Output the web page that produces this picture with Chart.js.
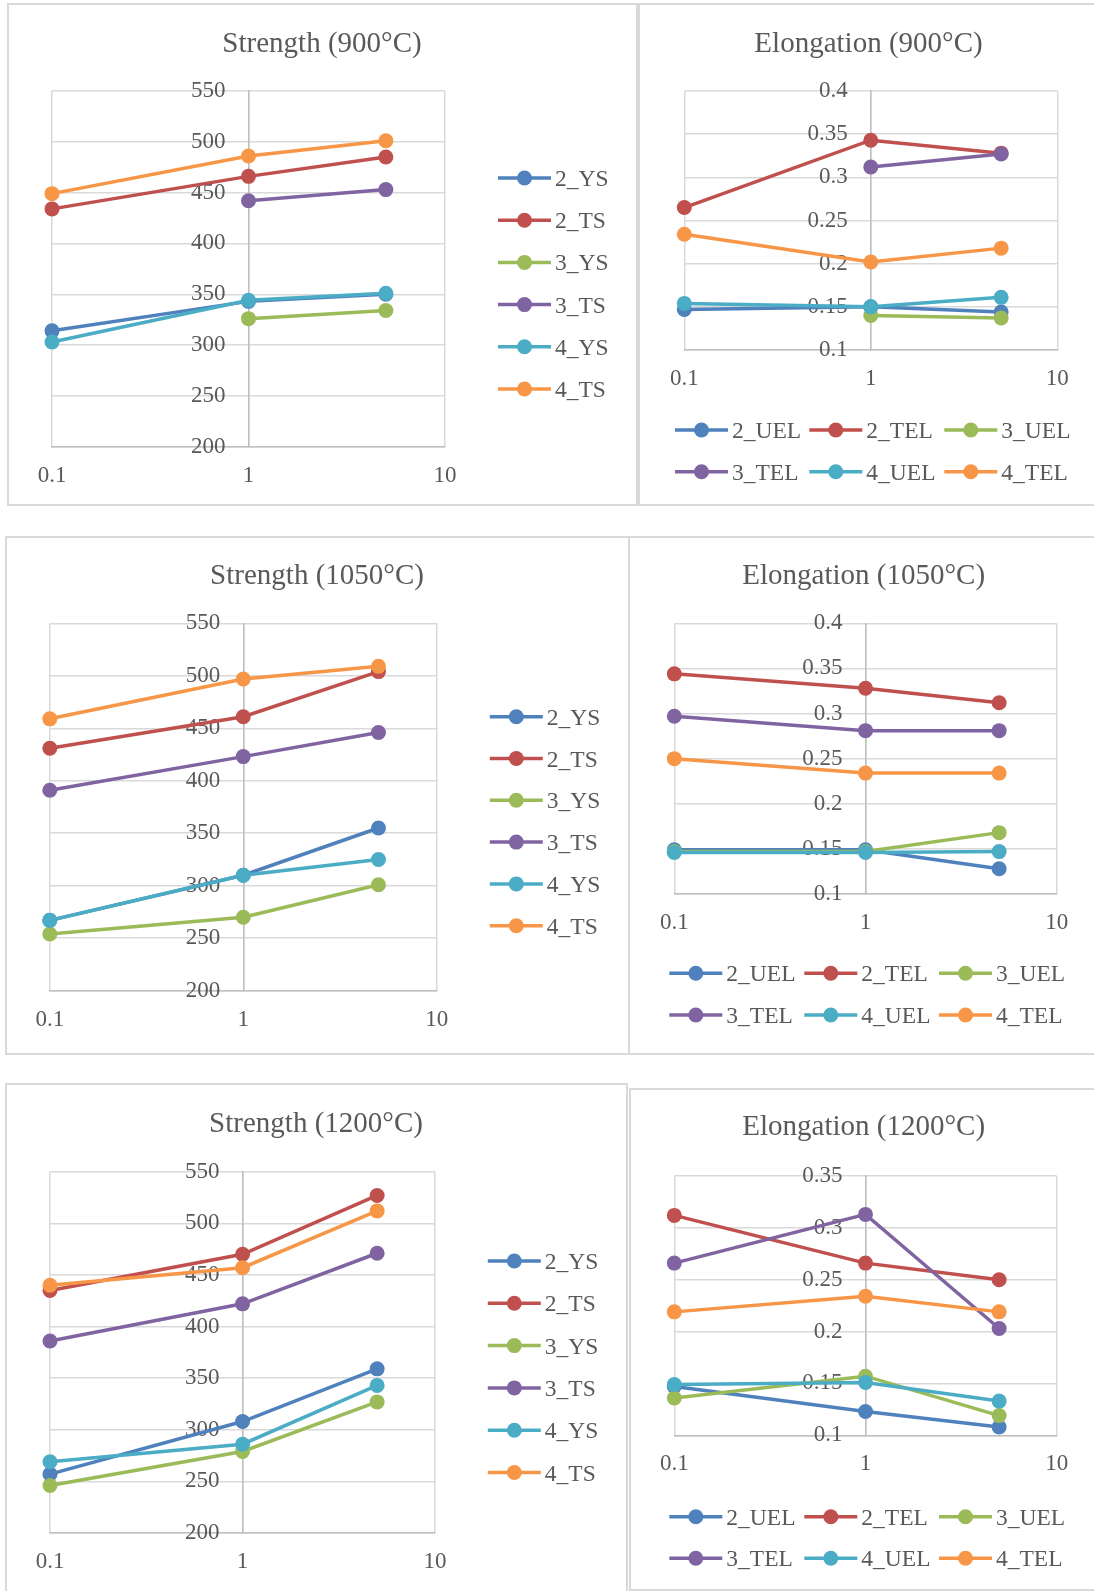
<!DOCTYPE html>
<html>
<head>
<meta charset="utf-8">
<title>Strength and elongation</title>
<script src="https://cdn.jsdelivr.net/npm/chart.js@4.4.1/dist/chart.umd.min.js"></script>
<style>
  html, body { margin: 0; padding: 0; background: #fff; overflow: hidden; }
  body { width: 1094px; height: 1591px; position: relative; }
  .frame { position: absolute; border: 2px solid #d9d9d9; box-sizing: border-box; }
  canvas { position: absolute; }
</style>
</head>
<body>
<div class="frame" style="left:7px;top:3px;width:631px;height:503px"></div>
<div class="frame" style="left:638px;top:3px;width:470px;height:503px"></div>
<div class="frame" style="left:5px;top:536px;width:625px;height:519px"></div>
<div class="frame" style="left:628px;top:536px;width:470px;height:519px"></div>
<div class="frame" style="left:5px;top:1083px;width:623px;height:520px"></div>
<div class="frame" style="left:629px;top:1088px;width:470px;height:503px"></div>

<canvas id="c1"></canvas>
<canvas id="c2"></canvas>
<canvas id="c3"></canvas>
<canvas id="c4"></canvas>
<canvas id="c5"></canvas>
<canvas id="c6"></canvas>

<script>
// strain rate (x) and axis ticks
const xValues = [0.1, 1, 5];
const xTickValues = [0.1, 1, 10];
const strengthTicks = [200, 250, 300, 350, 400, 450, 500, 550];
const elongTicks = [0.1, 0.15, 0.2, 0.25, 0.3, 0.35, 0.4];
const elongTicks1200 = [0.1, 0.15, 0.2, 0.25, 0.3, 0.35];

const strengthNames = ['2_YS', '2_TS', '3_YS', '3_TS', '4_YS', '4_TS'];
const elongNames = ['2_UEL', '2_TEL', '3_UEL', '3_TEL', '4_UEL', '4_TEL'];
const seriesColors = ['#4f81bd', '#c0504d', '#9bbb59', '#8064a2', '#4bacc6', '#f79646'];

// values at 0.1, 1, 5 (rows follow the series names)
const strength900 = [
  [314, 343, 350],
  [434, 466, 485],
  [null, 326, 334],
  [null, 442, 453],
  [303, 344, 351],
  [449, 486, 501]
];
const elong900 = [
  [0.147, 0.150, 0.144],
  [0.265, 0.343, 0.328],
  [null, 0.140, 0.137],
  [null, 0.312, 0.327],
  [0.154, 0.150, 0.161],
  [0.234, 0.202, 0.218]
];
const strength1050 = [
  [267, 310, 355],
  [431, 461, 504],
  [254, 270, 301],
  [391, 423, 446],
  [267, 310, 325],
  [459, 497, 509]
];
const elong1050 = [
  [0.149, 0.149, 0.128],
  [0.344, 0.328, 0.312],
  [0.147, 0.147, 0.168],
  [0.297, 0.281, 0.281],
  [0.146, 0.146, 0.147],
  [0.250, 0.234, 0.234]
];
const strength1200 = [
  [257, 308, 359],
  [435, 470, 527],
  [246, 279, 327],
  [386, 422, 471],
  [269, 286, 343],
  [440, 457, 512]
];
const elong1200 = [
  [0.147, 0.123, 0.108],
  [0.312, 0.266, 0.250],
  [0.136, 0.157, 0.119],
  [0.266, 0.313, 0.203],
  [0.149, 0.151, 0.133],
  [0.219, 0.234, 0.219]
];

const fontFamily = '"Liberation Serif", "Times New Roman", serif';
const textColor = '#595959';
const gridColor = '#d9d9d9';
const axisColor = '#bfbfbf';
const tickSize = 23;
const legendSize = 23.5;
const titleSize = 29;
const lineW = 3.5;
const dotR = 7.5;

// page layout: box = canvas rect, plot = chart area (page px)
const panels = [
  { id: 'c1', title: 'Strength (900°C)', names: strengthNames, data: strength900, yTicks: strengthTicks,
    box: [7, 3, 631, 503], plot: [52, 91, 445, 446.7], titleAt: [322, 52],
    legend: { right: true, x: 498, y: 178, step: 42.2 } },
  { id: 'c2', title: 'Elongation (900°C)', names: elongNames, data: elong900, yTicks: elongTicks,
    box: [638, 3, 456, 503], plot: [684.3, 91, 1057.3, 350], titleAt: [868.5, 52],
    legend: { cols: [675, 809.3, 944.3], rows: [430, 471.7] } },
  { id: 'c3', title: 'Strength (1050°C)', names: strengthNames, data: strength1050, yTicks: strengthTicks,
    box: [5, 536, 625, 519], plot: [49.8, 623.3, 436.7, 990.7], titleAt: [317, 584.3],
    legend: { right: true, x: 489.8, y: 716.7, step: 41.8 } },
  { id: 'c4', title: 'Elongation (1050°C)', names: elongNames, data: elong1050, yTicks: elongTicks,
    box: [628, 536, 466, 519], plot: [674.3, 623.3, 1056.7, 894], titleAt: [863.7, 584.3],
    legend: { cols: [669.3, 804.3, 939], rows: [973.3, 1015] } },
  { id: 'c5', title: 'Strength (1200°C)', names: strengthNames, data: strength1200, yTicks: strengthTicks,
    box: [5, 1083, 623, 508], plot: [50, 1171.7, 435.1, 1533], titleAt: [316, 1132.3],
    legend: { right: true, x: 487.8, y: 1261, step: 42.3 } },
  { id: 'c6', title: 'Elongation (1200°C)', names: elongNames, data: elong1200, yTicks: elongTicks1200,
    box: [629, 1088, 465, 503], plot: [674.3, 1176, 1056.7, 1435.3], titleAt: [863.7, 1135],
    legend: { cols: [669.3, 804.3, 939], rows: [1516.7, 1558.3] } }
];

// title + legend drawn in page coordinates
function makeDecor(p) {
  return {
    id: 'decor',
    afterDraw(chart) {
      const ctx = chart.ctx;
      const ox = p.box[0], oy = p.box[1];
      ctx.save();
      ctx.fillStyle = textColor;
      ctx.font = titleSize + 'px ' + fontFamily;
      ctx.textAlign = 'center';
      ctx.textBaseline = 'alphabetic';
      ctx.fillText(p.title, p.titleAt[0] - ox, p.titleAt[1] - oy);

      ctx.font = legendSize + 'px ' + fontFamily;
      ctx.textAlign = 'left';
      p.names.forEach((name, i) => {
        let x, y;
        if (p.legend.right) {
          x = p.legend.x;
          y = p.legend.y + i * p.legend.step;
        } else {
          x = p.legend.cols[i % 3];
          y = p.legend.rows[Math.floor(i / 3)];
        }
        x -= ox; y -= oy;
        ctx.strokeStyle = seriesColors[i];
        ctx.lineWidth = lineW;
        ctx.beginPath();
        ctx.moveTo(x, y);
        ctx.lineTo(x + 53, y);
        ctx.stroke();
        ctx.fillStyle = seriesColors[i];
        ctx.beginPath();
        ctx.arc(x + 26.5, y, dotR, 0, Math.PI * 2);
        ctx.fill();
        ctx.fillStyle = textColor;
        ctx.fillText(name, x + 57, y + 8);
      });
      ctx.restore();
    }
  };
}

function makeChart(p) {
  const [bx, by, bw, bh] = p.box;
  const [pl, pt, pr, pb] = p.plot;
  const canvas = document.getElementById(p.id);
  canvas.width = bw;
  canvas.height = bh;
  canvas.style.left = bx + 'px';
  canvas.style.top = by + 'px';

  const xPad = 15;
  const lineH = tickSize * 1.2;

  const datasets = p.names.map((name, i) => ({
    label: name,
    data: xValues.map((x, j) => ({ x: x, y: p.data[i][j] })),
    borderColor: seriesColors[i],
    backgroundColor: seriesColors[i],
    borderWidth: lineW,
    pointRadius: dotR,
    pointHoverRadius: dotR,
    pointBorderWidth: 0,
    order: p.names.length - i,
    clip: false,
    spanGaps: false
  }));

  const yt = p.yTicks;
  return new Chart(canvas, {
    type: 'line',
    data: { datasets: datasets },
    options: {
      responsive: false,
      animation: false,
      events: [],
      layout: {
        padding: {
          left: pl - bx,
          top: pt - by,
          right: bx + bw - pr,
          bottom: by + bh - pb - (2 * xPad + lineH)
        }
      },
      plugins: {
        legend: { display: false },
        title: { display: false },
        tooltip: { enabled: false }
      },
      scales: {
        x: {
          type: 'logarithmic',
          min: xTickValues[0],
          max: xTickValues[xTickValues.length - 1],
          afterBuildTicks: (s) => { s.ticks = xTickValues.map(v => ({ value: v })); },
          ticks: {
            callback: (v) => String(v),
            autoSkip: false,
            maxRotation: 0,
            padding: xPad,
            color: textColor,
            font: { family: fontFamily, size: tickSize }
          },
          grid: { color: gridColor, lineWidth: 1.5, drawTicks: false },
          border: { color: axisColor, width: 1.5 }
        },
        y: {
          type: 'linear',
          position: { x: 1 },
          min: yt[0],
          max: yt[yt.length - 1],
          afterBuildTicks: (s) => { s.ticks = yt.map(v => ({ value: v })); },
          ticks: {
            // em space keeps the label clear of the axis crossing at x = 1
            callback: (v) => String(+v.toFixed(2)) + '\u2003',
            color: textColor,
            font: { family: fontFamily, size: tickSize }
          },
          grid: { color: gridColor, lineWidth: 1.5, drawTicks: false },
          border: { color: axisColor, width: 1.5 }
        }
      }
    },
    plugins: [makeDecor(p)]
  });
}

panels.forEach(makeChart);
</script>
</body>
</html>
